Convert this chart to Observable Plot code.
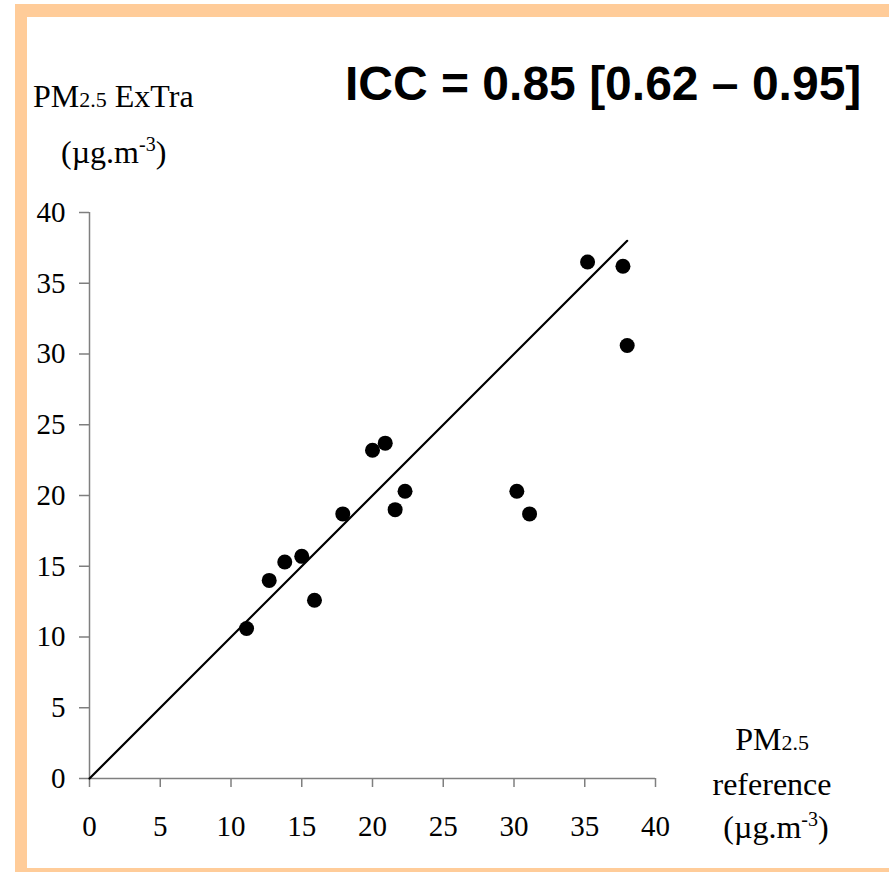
<!DOCTYPE html>
<html>
<head>
<meta charset="utf-8">
<script src="https://cdn.jsdelivr.net/npm/d3@7"></script>
<script src="https://cdn.jsdelivr.net/npm/@observablehq/plot@0.6"></script>
<style>
  html, body { margin: 0; padding: 0; background: #fff; overflow: hidden; }
  #wrap { position: relative; width: 889px; height: 872px; overflow: hidden; }
  #frame { position: absolute; left: 15px; top: 4px; width: 900px; height: 851px;
           border: 12px solid #FFCC99; border-right: none; border-top-width: 13px; border-bottom-width: 12px; background: #fff; }
  #chart { position: absolute; left: 0; top: 0; }
  #labels { position: absolute; left: 0; top: 0; }
</style>
</head>
<body>
<div id="wrap">
  <div id="frame"></div>
  <div id="chart"></div>
  <svg id="labels" width="889" height="872"></svg>
</div>
<script>
// Data
const referencePM = [11.1, 12.7, 13.8, 15.0, 15.9, 17.9, 20.0, 20.9, 21.6, 22.3, 30.2, 31.1, 35.2, 37.7, 38.0];
const extraPM     = [10.6, 14.0, 15.3, 15.7, 12.6, 18.7, 23.2, 23.7, 19.0, 20.3, 20.3, 18.7, 36.5, 36.2, 30.6];
const identityX = [0, 38];
const xTicks = [0, 5, 10, 15, 20, 25, 30, 35, 40];
const yTicks = [0, 5, 10, 15, 20, 25, 30, 35, 40];
const titleText = "ICC = 0.85 [0.62 \u2013 0.95]";

const points = referencePM.map((x, i) => ({x, y: extraPM[i]}));
const identity = identityX.map(v => ({x: v, y: v}));

const font = "'Liberation Serif', 'Times New Roman', serif";
const axisGray = "#7f7f7f";

const plot = Plot.plot({
  width: 889,
  height: 872,
  marginLeft: 89,
  marginRight: 234,
  marginTop: 212,
  marginBottom: 94,
  style: { fontFamily: font, fontSize: "29px", background: "transparent", color: "#000" },
  x: { domain: [0, 40], axis: null },
  y: { domain: [0, 40], axis: null },
  marks: [
    Plot.axisX({ ticks: xTicks, tickSize: 9, tickPadding: 28, label: null, stroke: axisGray, strokeWidth: 1.5, fill: "#000", fontSize: 29 }),
    Plot.axisY({ ticks: yTicks, tickSize: 10, tickPadding: 14, label: null, stroke: axisGray, strokeWidth: 1.5, fill: "#000", fontSize: 29 }),
    Plot.ruleX([0], { stroke: axisGray, strokeWidth: 1.5 }),
    Plot.ruleY([0], { stroke: axisGray, strokeWidth: 1.5 }),
    Plot.line(identity, { x: "x", y: "y", stroke: "#000", strokeWidth: 2.2 }),
    Plot.dot(points, { x: "x", y: "y", r: 7.5, fill: "#000", stroke: "none" })
  ]
});
document.getElementById("chart").appendChild(plot);

// Text annotations
const svg = d3.select("#labels");
svg.append("text")
  .attr("x", 345).attr("y", 100)
  .attr("font-family", "'Liberation Sans', Arial, sans-serif")
  .attr("font-weight", "bold").attr("font-size", 48)
  .text(titleText);

function pmLabel(g, x, y, anchor) {
  return g.append("text").attr("x", x).attr("y", y)
    .attr("font-family", font).attr("font-size", 32).attr("text-anchor", anchor || "start");
}
// Y axis title
let t1 = pmLabel(svg, 33, 107);
t1.append("tspan").text("PM");
t1.append("tspan").attr("font-size", 22).text("2.5");
t1.append("tspan").text(" ExTra");
let t2 = pmLabel(svg, 61, 163);
t2.append("tspan").text("(\u00b5g.m");
t2.append("tspan").attr("font-size", 20).attr("dy", -12).text("-3");
t2.append("tspan").attr("dy", 12).text(")");

// X axis title
let t3 = pmLabel(svg, 772, 750, "middle");
t3.append("tspan").text("PM");
t3.append("tspan").attr("font-size", 22).text("2.5");
let t4 = pmLabel(svg, 772, 795, "middle");
t4.text("reference");
let t5 = pmLabel(svg, 776, 838, "middle");
t5.append("tspan").text("(\u00b5g.m");
t5.append("tspan").attr("font-size", 20).attr("dy", -12).text("-3");
t5.append("tspan").attr("dy", 12).text(")");
</script>
</body>
</html>
